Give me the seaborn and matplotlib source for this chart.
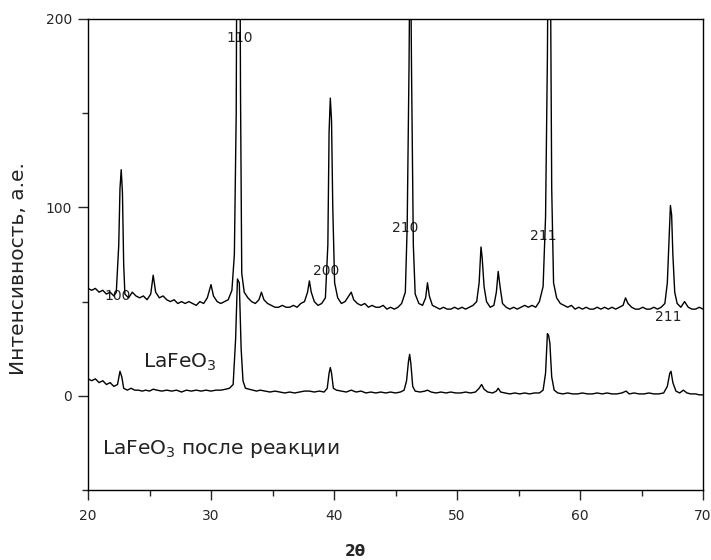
import numpy as np
import pandas as pd
import seaborn as sns
import matplotlib.pyplot as plt
from matplotlib.ticker import MultipleLocator

# upper pattern: LaFeO3 (fresh)
x_top = [20.0, 20.3, 20.6, 20.9, 21.2, 21.5, 21.8, 22.1, 22.3, 22.5, 22.6, 22.7, 22.8, 22.9,
         23.0, 23.3, 23.6, 23.9, 24.2, 24.5, 24.8, 25.1, 25.3, 25.5, 25.8, 26.1, 26.4, 26.7,
         27.0, 27.3, 27.6, 27.9, 28.2, 28.5, 28.8, 29.1, 29.4, 29.7, 30.0, 30.2, 30.5, 30.8,
         31.1, 31.4, 31.7, 31.9, 32.05, 32.15, 32.3, 32.4, 32.5, 32.7, 33.0, 33.3, 33.6, 33.9,
         34.1, 34.3, 34.6, 34.9, 35.2, 35.5, 35.8, 36.1, 36.4, 36.7, 37.0, 37.3, 37.6, 37.85,
         38.0, 38.15, 38.4, 38.7, 39.0, 39.3, 39.5, 39.6, 39.7, 39.8, 39.9, 40.05, 40.3, 40.6,
         40.9, 41.2, 41.4, 41.6, 41.9, 42.2, 42.5, 42.8, 43.1, 43.4, 43.7, 44.0, 44.3, 44.6,
         44.9, 45.2, 45.5, 45.8, 45.95, 46.1, 46.2, 46.3, 46.45, 46.6, 46.9, 47.2, 47.45, 47.6,
         47.75, 48.0, 48.3, 48.6, 48.9, 49.2, 49.5, 49.8, 50.1, 50.4, 50.7, 51.0, 51.3, 51.6,
         51.8, 51.95, 52.05, 52.2, 52.4, 52.7, 53.0, 53.2, 53.35, 53.5, 53.7, 54.0, 54.3, 54.6,
         54.9, 55.2, 55.5, 55.8, 56.1, 56.4, 56.7, 57.0, 57.2, 57.35, 57.45, 57.55, 57.7, 57.85,
         58.1, 58.4, 58.7, 59.0, 59.3, 59.6, 59.9, 60.2, 60.5, 60.8, 61.1, 61.4, 61.7, 62.0,
         62.3, 62.6, 62.9, 63.2, 63.5, 63.7, 63.9, 64.2, 64.5, 64.8, 65.1, 65.4, 65.7, 66.0,
         66.3, 66.6, 66.9, 67.1, 67.25, 67.35, 67.45, 67.55, 67.7, 67.9, 68.2, 68.5, 68.8, 69.1,
         69.4, 69.7, 70.0]
y_top = [57, 56, 57, 55, 56, 54, 55, 53, 55, 80, 110, 120, 108, 70,
         54, 52, 55, 53, 52, 53, 51, 54, 64, 55, 52, 53, 51, 50,
         51, 49, 50, 49, 50, 49, 48, 50, 49, 52, 59, 53, 50, 49,
         50, 51, 56, 75, 150, 330, 330, 160, 65, 55, 52, 50, 49, 51,
         55, 51, 49, 48, 47, 47, 48, 47, 47, 48, 47, 49, 50, 55,
         61, 55, 50, 48, 49, 52, 80, 140, 158, 146, 100, 60, 52, 49,
         50, 53, 55, 51, 49, 48, 49, 47, 48, 47, 47, 48, 46, 47,
         46, 47, 49, 55, 90, 175, 260, 175, 80, 54, 49, 48, 52, 60,
         53, 48, 47, 46, 47, 46, 46, 47, 46, 47, 46, 47, 48, 50,
         60, 79, 73, 58, 50, 47, 48, 55, 66, 58, 49, 47, 46, 47,
         46, 47, 48, 47, 48, 47, 50, 58, 95, 180, 280, 280, 110, 60,
         52, 49, 48, 47, 48, 46, 47, 46, 47, 46, 46, 47, 46, 47,
         46, 47, 46, 47, 48, 52, 49, 47, 46, 46, 47, 46, 46, 47,
         46, 47, 49, 60, 85, 101, 96, 75, 55, 49, 47, 50, 47, 46,
         46, 47, 46]

# lower pattern: LaFeO3 after reaction
x_bot = [20.0, 20.3, 20.6, 20.9, 21.2, 21.5, 21.8, 22.1, 22.4, 22.6, 22.75, 22.9, 23.2, 23.5,
         23.8, 24.1, 24.4, 24.7, 25.0, 25.3, 25.6, 26.0, 26.4, 26.8, 27.2, 27.6, 28.0, 28.4,
         28.8, 29.2, 29.6, 30.0, 30.4, 30.8, 31.2, 31.5, 31.8, 32.0, 32.15, 32.3, 32.45, 32.6,
         32.8, 33.1, 33.4, 33.7, 34.0, 34.4, 34.8, 35.2, 35.6, 36.0, 36.4, 36.8, 37.2, 37.6,
         38.0, 38.4, 38.8, 39.2, 39.45, 39.6, 39.7, 39.8, 39.95, 40.2, 40.6, 41.0, 41.4, 41.8,
         42.2, 42.6, 43.0, 43.4, 43.8, 44.2, 44.6, 45.0, 45.4, 45.7, 45.9, 46.05, 46.15, 46.25,
         46.4, 46.6, 47.0, 47.4, 47.6, 47.9, 48.3, 48.7, 49.1, 49.5, 49.9, 50.3, 50.7, 51.1,
         51.5, 51.8, 52.0, 52.2, 52.5, 52.9, 53.2, 53.35, 53.55, 53.9, 54.3, 54.7, 55.1, 55.5,
         55.9, 56.3, 56.7, 57.0, 57.2, 57.35, 57.45, 57.55, 57.7, 57.9, 58.2, 58.6, 59.0, 59.4,
         59.8, 60.2, 60.6, 61.0, 61.4, 61.8, 62.2, 62.6, 63.0, 63.4, 63.75, 64.0, 64.4, 64.8,
         65.2, 65.6, 66.0, 66.4, 66.8, 67.1, 67.3, 67.4, 67.55, 67.8, 68.1, 68.4, 68.7, 69.0,
         69.4, 69.7, 70.0]
y_bot = [9, 8, 9, 7, 8, 6, 7, 5, 6, 13, 10, 4, 3, 4,
         3, 3, 2.5, 3, 2.5, 3.5, 3, 2.5, 3, 2.5, 3, 2, 3, 2.5,
         3, 2.5, 3, 2.5, 3, 3, 3.5, 4, 6, 30, 62, 60, 25, 8,
         4, 3.5, 3, 2.5, 3, 2.5, 2, 2.5, 2, 1.5, 2, 1.5, 2, 2.5,
         2.5, 2, 2.5, 2, 4, 12, 15, 12, 4, 3, 2.5, 2, 3, 2,
         2.5, 1.5, 2, 1.5, 2, 1.5, 2, 1.5, 2, 3, 8, 18, 22, 17,
         5, 2.5, 2, 2.5, 3, 2, 1.5, 2, 1.5, 2, 1.5, 1.5, 2, 1.5,
         2, 4, 6, 3.5, 2, 1.5, 2.5, 4, 2, 1.5, 1, 1.5, 1, 1.5,
         1, 1.5, 1.5, 3, 12, 33, 32, 28, 10, 3, 1.5, 1, 1.5, 1,
         1, 1.5, 1, 1, 1.5, 1, 1.5, 1, 1, 1.5, 2.5, 1, 1.5, 1,
         1, 1.5, 1, 1, 1.5, 5, 12, 13, 7, 2.5, 1.5, 3, 1.5, 1,
         1, 0.5, 0.5]

# peak labels (hkl) and where they sit
hkl_text = ["110", "100", "200", "210", "211", "211"]
hkl_x = [32.3, 22.4, 39.4, 45.8, 57.0, 67.2]
hkl_y = [190, 53, 66, 89, 85, 42]

sns.set_style("ticks")
plt.rcParams["font.family"] = ["DejaVu Sans"]

fig = plt.figure(figsize=(7.11, 5.6), dpi=100)
ax = fig.add_axes([88 / 711, 1 - 490 / 560, 615 / 711, 471 / 560])

top = pd.DataFrame({"x": x_top, "y": y_top})
bot = pd.DataFrame({"x": x_bot, "y": y_bot})
sns.lineplot(data=top, x="x", y="y", color="black", lw=1.0, estimator=None, ax=ax, zorder=3)
sns.lineplot(data=bot, x="x", y="y", color="black", lw=1.0, estimator=None, ax=ax, zorder=3)

for t, tx, ty in zip(hkl_text, hkl_x, hkl_y):
    ax.text(tx, ty, t, ha="center", va="center", fontsize=10, color="#222222", zorder=2)

ax.text(24.5, 18, "LaFeO$_3$", fontsize=14.5, ha="left", va="center", color="#222222")
ax.text(21.1, -28, "LaFeO$_3$ после реакции", fontsize=14.5, ha="left", va="center",
        color="#222222")

ax.set_xlim(20, 70)
ax.set_ylim(-50, 200)
ax.xaxis.set_major_locator(MultipleLocator(10))
ax.xaxis.set_minor_locator(MultipleLocator(5))
ax.yaxis.set_major_locator(MultipleLocator(100))
ax.yaxis.set_minor_locator(MultipleLocator(50))
ax.tick_params(which="major", direction="out", length=7.5, width=1, labelsize=10, top=False, right=False)
ax.tick_params(which="minor", direction="out", length=4, width=1, top=False, right=False)
ax.tick_params(axis="x", which="major", pad=6)
ax.tick_params(axis="y", which="major", pad=4)

for s in ax.spines.values():
    s.set_visible(True)
    s.set_linewidth(1.0)
    s.set_color("black")

ax.set_ylabel("Интенсивность, а.е.", fontsize=14.5, color="#222222")
ax.yaxis.set_label_coords(-0.097, 0.47)
ax.set_xlabel("2θ", fontsize=11, fontweight="bold")
ax.xaxis.set_label_coords((355 - 88) / 615, -0.115)

fig.savefig("out.png", dpi=100)
